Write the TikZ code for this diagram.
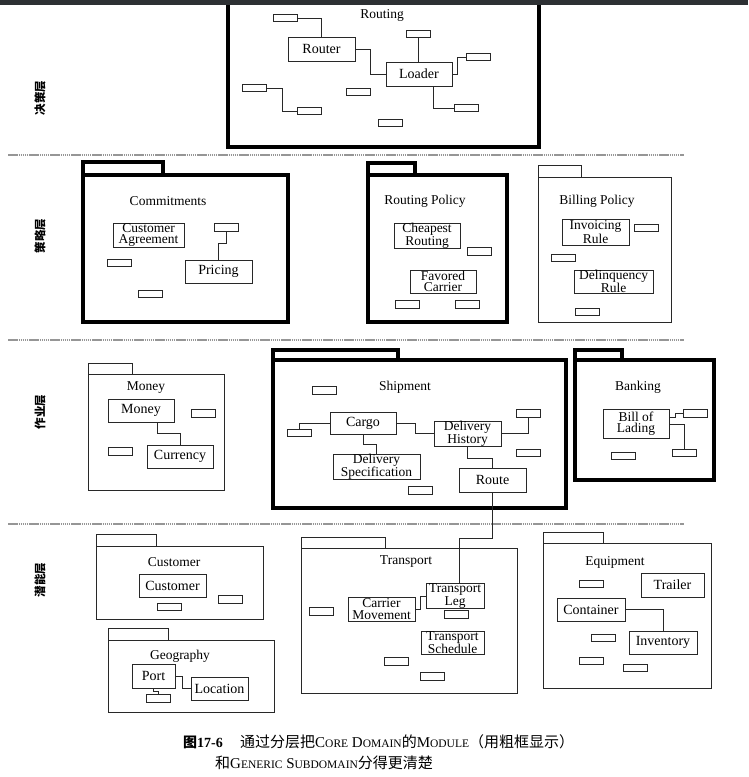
\documentclass[tikz,border=0pt]{standalone}
\usepackage{fontspec}
\setmainfont{Liberation Serif}
\newfontfamily\cjk{Noto Sans CJK SC}
\usepackage{tikz}
\definecolor{linegray}{RGB}{40,40,40}
\definecolor{rulegray}{RGB}{150,150,150}
\definecolor{topbar}{RGB}{45,48,51}
\newcommand{\smcap}[2]{#1{\fontsize{11.5}{12}\selectfont #2}}

\begin{document}
\begin{tikzpicture}[x=1pt, y=-1pt,
  cls/.style 2 args={draw=linegray, line width=0.8pt, minimum width=#1pt, minimum height=#2pt, inner sep=0pt, font=\fontsize{14}{14}\selectfont},
  cls2/.style 2 args={cls={#1}{#2}, align=center, font=\fontsize{13.5}{11.5}\selectfont},
  stub/.style={draw=linegray, line width=0.7pt, minimum width=24pt, minimum height=7.5pt, inner sep=0pt},
  link/.style={draw=linegray, line width=0.7pt},
  corepkg/.style={draw=black, line width=4.5pt},
  genpkg/.style={draw=linegray, line width=0.8pt},
  pkgtitle/.style={font=\fontsize{13.5}{13.5}\selectfont, inner sep=0pt},
  layer/.style={rotate=90, font=\cjk\bfseries\fontsize{11.5}{11.5}\selectfont},
  sep/.style={draw=rulegray, line width=1.5pt, dash pattern=on 1.5pt off 0.6pt}]
\useasboundingbox (0,0) rectangle (748,777);
\fill[white] (0,0) rectangle (748,777);

% layers
\draw[sep] (8,155) -- (684,155);
\draw[sep] (8,340) -- (684,340);
\draw[sep] (8,524) -- (684,524);
\node[layer] (decision) at (40,98) {决策层};
\node[layer] (policy) at (40,236) {策略层};
\node[layer] (operation) at (40,412) {作业层};
\node[layer] (potential) at (40,580) {潜能层};

% packages
\draw[corepkg] (228,-10) rectangle (539,147);
\draw[corepkg] (83,162) rectangle (163,175) (83,175) rectangle (288,322);
\draw[corepkg] (368,163) rectangle (415,175) (368,175) rectangle (507,322);
\draw[genpkg] (538,165) rectangle (581,177) (538,177) rectangle (671,322);
\draw[genpkg] (88,363) rectangle (132,374) (88,374) rectangle (224,490);
\draw[corepkg] (273,350) rectangle (398,360) (273,360) rectangle (566,508);
\draw[corepkg] (575,350) rectangle (622,360) (575,360) rectangle (714,480);
\draw[genpkg] (96,534) rectangle (156,546) (96,546) rectangle (263,619);
\draw[genpkg] (108,628) rectangle (168,640) (108,640) rectangle (274,712);
\draw[genpkg] (301,537) rectangle (385,548) (301,548) rectangle (517,693);
\draw[genpkg] (543,532) rectangle (603,543) (543,543) rectangle (711,688);
\fill[topbar] (0,0) rectangle (748,5);

% Routing
\node[pkgtitle] (routing) at (382,15) {Routing};
\node[stub] (r_s1) at (285.5,18) {};
\node[cls={67}{24}] (router) at (321.5,49) {Router};
\node[cls={66}{24}] (loader) at (419,74) {Loader};
\node[stub] (r_s2) at (418.5,34) {};
\node[stub] (r_s3) at (478,57) {};
\node[stub] (r_s4) at (466,108) {};
\node[stub] (r_s5) at (254,88) {};
\node[stub] (r_s6) at (309.5,111) {};
\node[stub] (r_s7) at (358,92) {};
\node[stub] (r_s8) at (390,123) {};
\draw[link] (r_s1.east) -| (router.north);
\draw[link] (router.east) -- ++(15,0) |- (loader.west);
\draw[link] (r_s2.south) -- (r_s2.south |- loader.north);
\draw[link] (loader.east) -- ++(5,0) |- (r_s3.west);
\draw[link] ([xshift=14pt]loader.south) |- (r_s4.west);
\draw[link] (r_s5.east) -- ++(16,0) |- (r_s6.west);

% Commitments
\node[pkgtitle] (commitments) at (168,201) {Commitments};
\node[cls2={71}{24}] (custagr) at (148.5,235) {Customer\\Agreement};
\node[stub] (c_s1) at (226.5,227.5) {};
\node[cls={67}{23}] (pricing) at (218.5,271.5) {Pricing};
\node[stub] (c_s2) at (119.5,263) {};
\node[stub] (c_s3) at (150.5,294) {};
\draw[link] (c_s1.south) -- ++(0,12) -| (pricing.north);

% Routing Policy
\node[pkgtitle] (routingpolicy) at (425,201) {Routing Policy};
\node[cls2={66}{23}] (cheapest) at (427,235.5) {Cheapest\\Routing};
\node[stub] (rp_s1) at (479,251.5) {};
\node[cls2={66}{23}] (favored) at (443,281.5) {Favored\\Carrier};
\node[stub] (rp_s2) at (407,304.5) {};
\node[stub] (rp_s3) at (467.5,304.5) {};

% Billing Policy
\node[pkgtitle] (billingpolicy) at (597,201) {Billing Policy};
\node[cls2={67}{26}] (invoicing) at (595.5,232) {Invoicing\\Rule};
\node[stub] (bp_s1) at (646.5,228) {};
\node[stub] (bp_s2) at (563,258) {};
\node[cls2={79}{23}] (delinq) at (613.5,281.5) {Delinquency\\Rule};
\node[stub] (bp_s3) at (587.5,312) {};

% Money
\node[pkgtitle] (moneypkg) at (146,388) {Money};
\node[cls={66}{23}] (money) at (141,410.5) {Money};
\node[stub] (m_s1) at (203.5,413.5) {};
\node[cls={66}{23}] (currency) at (180,456.5) {Currency};
\node[stub] (m_s2) at (120,451.5) {};
\draw[link] ([xshift=16pt]money.south) -- ++(0,11) -| (currency.north);

% Shipment
\node[pkgtitle] (shipment) at (405,387) {Shipment};
\node[stub] (sh_s1) at (324,390.5) {};
\node[cls={66}{22}] (cargo) at (363,423) {Cargo};
\node[stub] (sh_s2) at (299.5,433) {};
\node[cls2={67}{23}] (delhist) at (467.5,433.5) {Delivery\\History};
\node[stub] (sh_s3) at (528,413.5) {};
\node[stub] (sh_s4) at (528,453) {};
\node[cls2={87}{22}] (delspec) at (376.5,467) {Delivery\\Specification};
\node[stub] (sh_s5) at (420.5,490.5) {};
\node[cls={67}{24}] (route) at (492.5,480) {Route};
\draw[link] (sh_s2.north) |- (cargo.west);
\draw[link] (cargo.east) -- ++(19,0) |- (delhist.west);
\draw[link] (cargo.south) -- ++(0,10) -| (delspec.north);
\draw[link] (delhist.east) -| (sh_s3.south);
\draw[link] (delhist.south) -- ++(0,12) -| (route.north);

% Banking
\node[pkgtitle] (banking) at (638,387) {Banking};
\node[cls2={66}{29}] (bill) at (636,423.5) {Bill of\\Lading};
\node[stub] (b_s1) at (695.5,413.5) {};
\node[stub] (b_s2) at (684.5,453) {};
\node[stub] (b_s3) at (623.5,456) {};
\draw[link] ([yshift=6.5pt]bill.east) -- ++(6,0) |- (b_s1.west);
\draw[link] ([yshift=-0.5pt]bill.east) -| (b_s2.north);

% Customer
\node[pkgtitle] (customerpkg) at (174,562) {Customer};
\node[cls={67}{23}] (customer) at (172.5,585.5) {Customer};
\node[stub] (cu_s1) at (230,599.5) {};
\node[stub] (cu_s2) at (169,607) {};

% Geography
\node[pkgtitle] (geography) at (180,656) {Geography};
\node[cls={43}{24}] (port) at (153.5,676) {Port};
\node[cls={57}{23}] (location) at (219.5,688.5) {Location};
\node[stub] (g_s1) at (158,698.5) {};
\draw[link] (port.east) -- ++(7,0) |- (location.west);
\draw[link] (port.south) -- ++(0,3) -| (g_s1.north);

% Transport
\node[pkgtitle] (transport) at (406,562) {Transport};
\node[stub] (t_s1) at (321,611.5) {};
\node[cls2={67}{24}] (carrier) at (381.5,609) {Carrier\\Movement};
\node[cls2={58}{24}] (tleg) at (455,596) {Transport\\Leg};
\node[stub] (t_s2) at (456,614.5) {};
\node[cls2={63}{23}] (tsched) at (452.5,642.5) {Transport\\Schedule};
\node[stub] (t_s3) at (396.5,661.5) {};
\node[stub] (t_s4) at (432.5,676.5) {};
\draw[link] (carrier.east) -- ++(5,0) |- (tleg.west);
\draw[link] (route.south) -- ++(0,46) -| ([xshift=4pt]tleg.north);

% Equipment
\node[pkgtitle] (equipment) at (615,562) {Equipment};
\node[stub] (e_s1) at (591,584) {};
\node[cls={63}{24}] (trailer) at (672.5,585) {Trailer};
\node[cls={68}{23}] (container) at (591,609.5) {Container};
\node[cls={68}{23}] (inventory) at (663,642.5) {Inventory};
\node[stub] (e_s2) at (603,638) {};
\node[stub] (e_s3) at (591,661) {};
\node[stub] (e_s4) at (635,668) {};
\draw[link] (container.east) -| (inventory.north);

% caption
\node[anchor=west, inner sep=0pt, font=\fontsize{14}{14}\selectfont] (fignum) at (183,742) {{\cjk\bfseries 图}\textbf{17-6}};
\node[anchor=west, inner sep=0pt, font=\fontsize{15}{15}\selectfont] (caption1) at (240,742) {{\cjk 通过分层把}\smcap{C}{ORE} \smcap{D}{OMAIN}{\cjk 的}\smcap{M}{ODULE}{\cjk （用粗框显示）}};
\node[anchor=west, inner sep=0pt, font=\fontsize{15}{15}\selectfont] (caption2) at (215,763) {{\cjk 和}\smcap{G}{ENERIC} \smcap{S}{UBDOMAIN}{\cjk 分得更清楚}};
\end{tikzpicture}
\end{document}
